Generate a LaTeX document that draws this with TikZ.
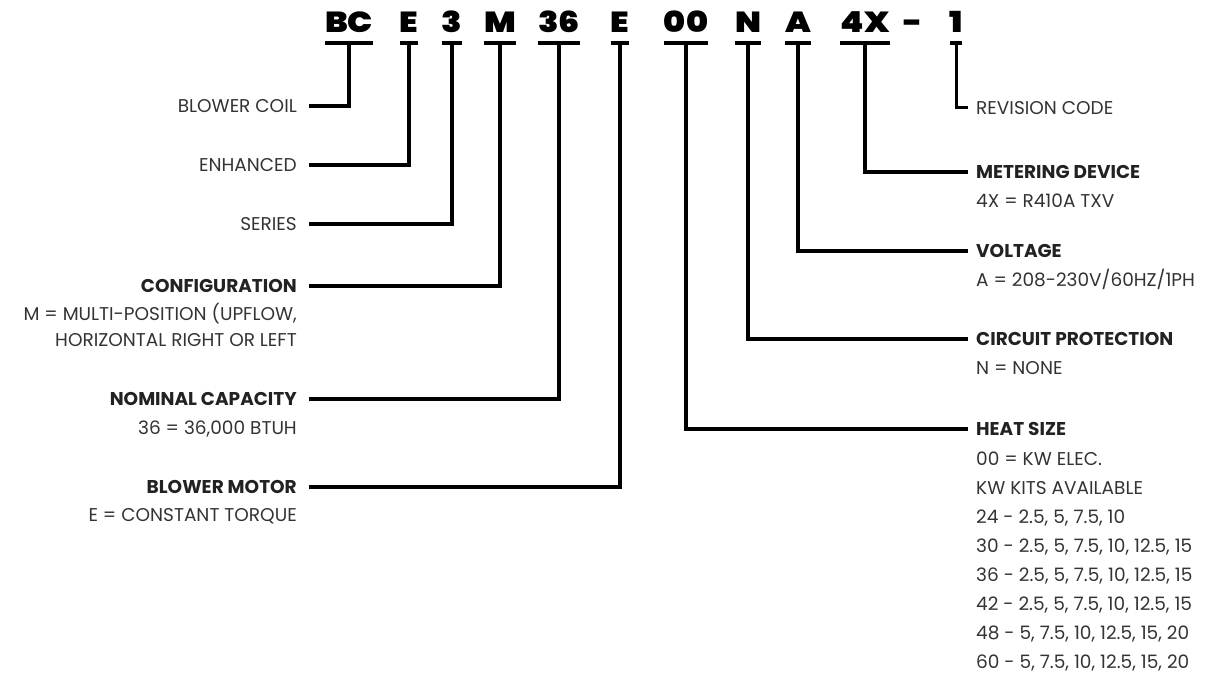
\documentclass[tikz,border=0pt]{standalone}
\usepackage{fontspec}
\setmainfont{Poppins}
\IfFontExistsTF{Poppins Black}{\newfontfamily\codefont{Poppins Black}}{%
  \IfFontExistsTF{Poppins ExtraBold}{\newfontfamily\codefont{Poppins ExtraBold}}{%
    \newfontfamily\codefont{Poppins}[UprightFont=*-Bold]}}
\definecolor{txt}{HTML}{333333}
\definecolor{hd}{HTML}{222222}
\newcommand{\codetxt}[1]{\scalebox{1.15}[1]{#1}}
\tikzset{
  code/.style={font=\fontsize{29}{30}\selectfont\codefont, inner sep=0pt, anchor=base, text=black},
  uline/.style={line width=4pt},
  conn/.style={line width=3.5pt, line join=miter},
  lab/.style={font=\fontsize{18.5}{20}\selectfont, text=txt, inner sep=0pt, text height=13pt, text depth=0pt},
  head/.style={lab, text=hd, font=\fontsize{18.5}{20}\selectfont\bfseries},
  labL/.style={lab, anchor=east},
  headL/.style={head, anchor=east},
  labR/.style={lab, anchor=west},
  headR/.style={head, anchor=west},
}
\begin{document}
\begin{tikzpicture}[x=1pt, y=-1pt]
\useasboundingbox (0,0) rectangle (1207,676);
% code letters
\node[code] (c1) at (349,33) {\codetxt{BC}};
\node[code] (c2) at (409,33) {\codetxt{E}};
\node[code] (c3) at (452,33) {\codetxt{3}};
\node[code] (c4) at (500,33) {\codetxt{M}};
\node[code] (c5) at (559,33) {\codetxt{36}};
\node[code] (c6) at (620,33) {\codetxt{E}};
\node[code] (c7) at (686,33) {\codetxt{00}};
\node[code] (c8) at (748,33) {\codetxt{N}};
\node[code] (c9) at (798,33) {\codetxt{A}};
\node[code] (c10) at (865,33) {\codetxt{4X}};
\node[code] (cd) at (913,33) {\codetxt{-}};
\node[code] (c11) at (956,33) {\codetxt{1}};
\foreach \n in {c1,c2,c3,c4,c5,c6,c7,c8,c9,c10}
  \draw[uline] ([yshift=-10pt]\n.base west) -- ([yshift=-10pt]\n.base east);
\draw[uline] ([yshift=-10pt,xshift=-6pt]c11.base) -- ([yshift=-10pt,xshift=6pt]c11.base);
% left labels
\node[labL] (l1) at (297,106) {BLOWER COIL};
\node[labL] (l2) at (297,165) {ENHANCED};
\node[labL] (l3) at (297,224) {SERIES};
\node[headL] (l4) at (297,286) {CONFIGURATION};
\node[labL] (l4a) at (297,314) {M = MULTI-POSITION (UPFLOW,};
\node[labL] (l4b) at (297,340) {HORIZONTAL RIGHT OR LEFT};
\node[headL] (l5) at (297,399) {NOMINAL CAPACITY};
\node[labL] (l5a) at (297,428) {36 = 36,000 BTUH};
\node[headL] (l6) at (297,487) {BLOWER MOTOR};
\node[labL] (l6a) at (297,515) {E = CONSTANT TORQUE};
% right labels
\node[labR] (r1) at (976,108) {REVISION CODE};
\node[headR] (r2) at (976,172) {METERING DEVICE};
\node[labR] (r2a) at (976,201) {4X = R410A TXV};
\node[headR] (r3) at (976,251) {VOLTAGE};
\node[labR] (r3a) at (976,280) {A = 208-230V/60HZ/1PH};
\node[headR] (r4) at (976,339) {CIRCUIT PROTECTION};
\node[labR] (r4a) at (976,368) {N = NONE};
\node[headR] (r5) at (976,429) {HEAT SIZE};
\node[labR] (r5a) at (976,459) {00 = KW ELEC.};
\node[labR] (r5b) at (976,488) {KW KITS AVAILABLE};
\node[labR] (r5c) at (976,517) {24 - 2.5, 5, 7.5, 10};
\node[labR] (r5d) at (976,546) {30 - 2.5, 5, 7.5, 10, 12.5, 15};
\node[labR] (r5e) at (976,575) {36 - 2.5, 5, 7.5, 10, 12.5, 15};
\node[labR] (r5f) at (976,604) {42 - 2.5, 5, 7.5, 10, 12.5, 15};
\node[labR] (r5g) at (976,633) {48 - 5, 7.5, 10, 12.5, 15, 20};
\node[labR] (r5h) at (976,662) {60 - 5, 7.5, 10, 12.5, 15, 20};
% connectors
\draw[conn] ([yshift=-10pt]c1.base) |- ([xshift=12pt]l1.east);
\draw[conn] ([yshift=-10pt]c2.base) |- ([xshift=12pt]l2.east);
\draw[conn] ([yshift=-10pt]c3.base) |- ([xshift=12pt]l3.east);
\draw[conn] ([yshift=-10pt]c4.base) |- ([xshift=12pt]l4.east);
\draw[conn] ([yshift=-10pt]c5.base) |- ([xshift=12pt]l5.east);
\draw[conn] ([yshift=-10pt]c6.base) |- ([xshift=12pt]l6.east);
\draw[conn] ([yshift=-10pt]c7.base) |- ([xshift=-8pt]r5.west);
\draw[conn] ([yshift=-10pt]c8.base) |- ([xshift=-8pt]r4.west);
\draw[conn] ([yshift=-10pt]c9.base) |- ([xshift=-8pt]r3.west);
\draw[conn] ([yshift=-10pt]c10.base) |- ([xshift=-8pt]r2.west);
\draw[conn, line width=3pt] ([yshift=-10pt]c11.base) |- ([xshift=-8pt]r1.west);
\end{tikzpicture}
\end{document}
